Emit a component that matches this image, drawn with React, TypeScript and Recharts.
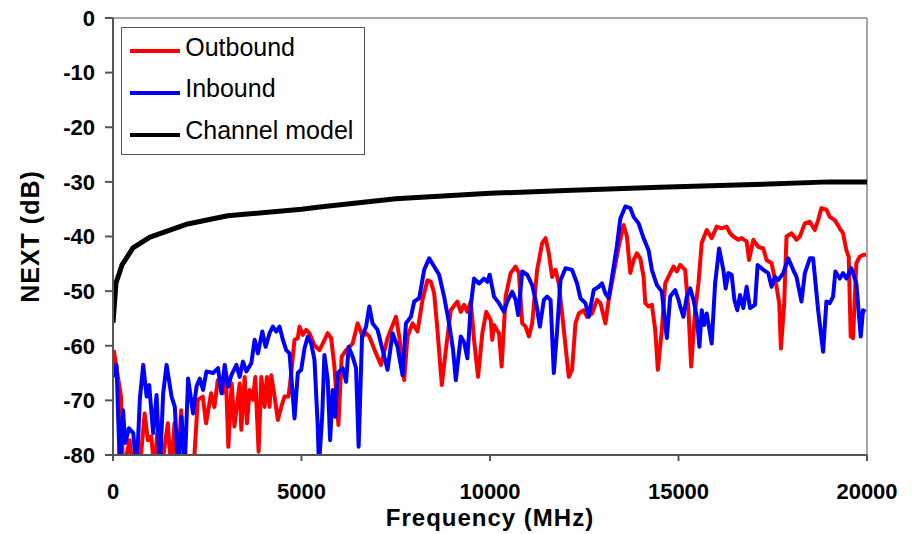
import React from 'react';
import { LineChart, Line, XAxis, YAxis, ReferenceLine, Legend } from 'recharts';

// Frequency (MHz) / NEXT (dB)
const outbound: [number, number][] = [
  [20,-60.8],[212,-69.3],[265,-83],[442,-77.3],[529,-83],[706,-83],[839,-72.4],[926,-77.3],[1014,-76.6],[1102,-83],[1172,-76.0],[1278,-83],[1455,-74.2],[1543,-83],[1631,-74.2],[1720,-83],[1807,-71.8],[1896,-83],[2028,-83],[2143,-82],[2249,-69.9],[2381,-69.3],[2469,-74.2],[2601,-68.7],[2690,-71.2],[2778,-66.3],[2910,-68.7],[2998,-66.3],[3060,-78.5],[3148,-66.9],[3220,-74.8],[3360,-66.9],[3404,-75.4],[3492,-65.7],[3554,-74.2],[3624,-68.1],[3712,-69.9],[3775,-65.7],[3862,-79.4],[3934,-65.7],[4021,-71.2],[4082,-65.7],[4153,-71.2],[4198,-65.4],[4286,-69.3],[4373,-73.6],[4463,-71.2],[4550,-69.3],[4656,-69.3],[4728,-65.0],[4815,-58.9],[4902,-58.6],[4947,-56.5],[5034,-58.0],[5124,-57.1],[5212,-57.7],[5344,-59.9],[5476,-60.8],[5563,-59.6],[5696,-57.7],[5786,-58.6],[5873,-63.8],[5979,-74.5],[6066,-62.0],[6183,-60.8],[6270,-60.2],[6357,-59.6],[6489,-55.9],[6622,-58.3],[6712,-57.7],[6799,-58.3],[6976,-61.4],[7108,-63.5],[7283,-58.6],[7505,-54.7],[7593,-58.3],[7725,-66.3],[7812,-58.3],[7945,-55.9],[8077,-57.4],[8209,-51.6],[8341,-48.0],[8431,-48.3],[8519,-50.4],[8606,-57.1],[8722,-67.2],[8828,-60.8],[8960,-53.5],[9135,-51.9],[9225,-53.8],[9312,-52.5],[9400,-53.8],[9489,-51.9],[9577,-58.9],[9683,-65.7],[9797,-57.7],[9902,-53.8],[10019,-55.3],[10061,-58.9],[10106,-56.2],[10238,-57.7],[10309,-63.8],[10415,-51.0],[10547,-46.7],[10680,-45.5],[10767,-46.7],[10854,-55.9],[10944,-56.5],[11032,-58.3],[11119,-55.9],[11251,-46.1],[11384,-41.2],[11474,-40.3],[11561,-43.1],[11648,-47.4],[11738,-46.1],[11825,-48.6],[11958,-57.1],[12090,-65.7],[12177,-64.4],[12267,-55.9],[12354,-54.1],[12487,-53.5],[12574,-54.7],[12707,-54.1],[12839,-51.6],[12929,-52.2],[13061,-55.9],[13148,-51.6],[13281,-46.7],[13413,-41.9],[13545,-37.9],[13632,-40.0],[13722,-46.7],[13810,-44.3],[13897,-43.1],[13987,-44.0],[14074,-47.4],[14119,-52.2],[14206,-52.8],[14294,-52.5],[14383,-57.1],[14452,-64.4],[14558,-57.1],[14648,-48.6],[14780,-46.7],[14868,-45.5],[14955,-46.4],[15045,-45.2],[15177,-46.1],[15264,-53.5],[15336,-63.8],[15442,-53.5],[15529,-48.6],[15616,-41.2],[15749,-38.8],[15881,-40.3],[16013,-38.2],[16146,-38.5],[16278,-38.2],[16368,-39.4],[16455,-40.0],[16587,-40.6],[16675,-40.3],[16807,-40.9],[16871,-44.3],[16984,-40.6],[17116,-41.9],[17249,-42.2],[17336,-44.3],[17468,-44.9],[17601,-49.2],[17672,-52.2],[17717,-60.5],[17804,-52.2],[17865,-40.0],[17997,-39.4],[18130,-40.6],[18219,-40.0],[18352,-37.6],[18484,-37.3],[18616,-38.8],[18704,-37.0],[18791,-34.8],[18923,-35.1],[19013,-36.4],[19146,-37.0],[19278,-38.5],[19365,-39.4],[19452,-42.5],[19515,-43.7],[19568,-58.3],[19630,-58.6],[19717,-44.9],[19807,-43.7],[19894,-43.4],[19980,-43.3],
];

const inbound: [number, number][] = [
  [0,-65.7],[93,-63.5],[185,-83],[265,-71.8],[325,-77.8],[423,-75.1],[537,-76.0],[627,-83],[714,-69.6],[802,-63.5],[892,-69.3],[960,-67.2],[1066,-76.0],[1156,-69.0],[1243,-83],[1331,-68.7],[1421,-63.5],[1553,-69.3],[1640,-71.2],[1728,-83],[1817,-73.0],[1905,-82],[1992,-66.0],[2124,-72.4],[2214,-67.5],[2302,-66.0],[2389,-68.1],[2479,-64.7],[2653,-65.0],[2786,-64.1],[2876,-68.7],[2963,-63.5],[3050,-67.5],[3140,-65.4],[3273,-63.5],[3360,-65.7],[3447,-62.9],[3537,-64.7],[3669,-63.2],[3757,-58.9],[3844,-61.4],[3960,-57.4],[4048,-60.2],[4153,-57.7],[4241,-56.5],[4331,-57.4],[4418,-56.5],[4505,-58.9],[4595,-60.8],[4683,-61.4],[4815,-73.3],[4902,-65.0],[4992,-64.4],[5079,-60.5],[5167,-58.3],[5257,-59.6],[5344,-62.6],[5431,-74.8],[5463,-82],[5548,-73.0],[5608,-61.7],[5696,-66.3],[5759,-77.3],[5828,-68.1],[5892,-73.0],[5960,-65.0],[6093,-64.1],[6183,-66.6],[6251,-60.2],[6357,-62.0],[6447,-64.1],[6516,-78.5],[6606,-58.3],[6712,-56.5],[6799,-52.8],[6886,-55.9],[7019,-57.1],[7151,-60.8],[7283,-64.4],[7415,-57.7],[7548,-60.2],[7680,-65.4],[7770,-55.9],[7902,-54.7],[7989,-51.9],[8122,-51.3],[8254,-46.1],[8386,-44.0],[8519,-45.5],[8651,-47.0],[8783,-51.0],[8915,-55.9],[9021,-60.8],[9093,-66.3],[9225,-58.3],[9312,-59.3],[9400,-62.3],[9489,-52.8],[9577,-47.7],[9709,-48.6],[9841,-47.7],[9929,-48.3],[9992,-47.0],[10106,-51.0],[10238,-52.2],[10370,-53.8],[10458,-51.9],[10590,-50.1],[10680,-51.6],[10748,-54.4],[10854,-46.4],[10987,-47.0],[11119,-48.9],[11225,-52.2],[11323,-56.5],[11429,-51.6],[11516,-51.0],[11606,-51.6],[11693,-65.0],[11781,-57.1],[11870,-48.0],[12003,-45.8],[12177,-46.1],[12310,-48.6],[12399,-51.3],[12532,-52.2],[12619,-54.7],[12751,-49.8],[12884,-49.2],[12971,-48.6],[13061,-50.4],[13148,-51.3],[13281,-45.5],[13368,-41.6],[13458,-36.7],[13590,-34.5],[13722,-34.8],[13810,-36.4],[13942,-37.6],[14074,-40.3],[14206,-42.5],[14294,-46.1],[14427,-48.9],[14558,-50.1],[14691,-58.6],[14780,-51.0],[14913,-49.8],[15000,-51.6],[15045,-52.8],[15132,-54.7],[15220,-51.0],[15310,-49.5],[15397,-51.6],[15484,-54.7],[15556,-60.2],[15616,-53.5],[15680,-56.2],[15749,-54.1],[15881,-59.6],[15971,-48.6],[16077,-42.2],[16190,-46.1],[16251,-49.5],[16323,-46.7],[16410,-47.0],[16482,-51.6],[16561,-53.5],[16632,-50.7],[16719,-53.1],[16807,-49.2],[16897,-53.1],[17029,-52.5],[17098,-45.2],[17249,-46.1],[17381,-46.7],[17468,-49.2],[17558,-47.4],[17645,-48.0],[17778,-46.7],[17910,-44.0],[18042,-46.1],[18130,-47.4],[18262,-51.9],[18352,-46.7],[18484,-44.0],[18571,-44.0],[18704,-53.5],[18836,-61.1],[18923,-51.9],[19013,-52.2],[19100,-51.0],[19161,-46.4],[19278,-47.7],[19365,-46.7],[19452,-47.7],[19585,-45.8],[19717,-48.6],[19834,-58.3],[19894,-53.5],[19960,-53.8],
];

const channelModel: [number, number][] = [
  [0,-55.8],[80,-48.5],[240,-45.2],[530,-42.1],[980,-40.1],[1980,-37.7],[3040,-36.2],[5000,-35.0],[5480,-34.6],[7500,-33.1],[10000,-32.1],[12000,-31.6],[14500,-31.0],[17000,-30.5],[19000,-30.0],[20000,-30.0],
];

const freqTicks = [0, 5000, 10000, 15000, 20000];
const dbTicks = [-80, -70, -60, -50, -40, -30, -20, -10, 0];

const seriesNames = ['Outbound', 'Inbound', 'Channel model'];
const seriesColors = ['#ff0000', '#0000ff', '#000000'];

const toRows = (pts: [number, number][]) => pts.map(([f, db]) => ({ f, db }));

const FONT = '"Liberation Sans", Arial, sans-serif';

const LegendBox = () => (
  <div
    style={{
      position: 'relative',
      width: 244,
      height: 128,
      boxSizing: 'border-box',
      border: '1px solid #555',
      background: '#fff',
      fontFamily: FONT,
    }}
  >
    {seriesNames.map((name, i) => (
      <React.Fragment key={name}>
        <div
          style={{
            position: 'absolute',
            left: 8.5,
            top: 21.5 + 42.1 * i,
            width: 50,
            height: 3.5,
            background: seriesColors[i],
          }}
        />
        <div
          style={{
            position: 'absolute',
            left: 63.5,
            top: 7.1 + 41.65 * i,
            fontSize: 25,
            lineHeight: '25px',
            whiteSpace: 'nowrap',
            color: '#000',
          }}
        >
          {name}
        </div>
      </React.Fragment>
    ))}
  </div>
);

export default function App() {
  const tickStyle = { fill: '#000', fontSize: 22, fontWeight: 'bold', fontFamily: FONT };
  return (
    <div>
      <style>{'.recharts-surface{overflow:visible}'}</style>
      <LineChart width={905} height={526} margin={{ top: 10, right: 46, bottom: 8, left: 0 }}>
        <XAxis
          type="number"
          dataKey="f"
          domain={[0, 20000]}
          ticks={freqTicks}
          interval={0}
          allowDataOverflow
          height={71}
          tickSize={6}
          tickMargin={22}
          axisLine={{ stroke: '#555', strokeWidth: 2 }}
          tickLine={{ stroke: '#555', strokeWidth: 2 }}
          tick={tickStyle}
          label={{
            value: 'Frequency (MHz)',
            position: 'insideBottom',
            offset: 0,
            fill: '#000',
            fontSize: 24,
            fontWeight: 'bold',
            fontFamily: FONT,
            letterSpacing: 1,
          }}
        />
        <YAxis
          type="number"
          domain={[-80, 0]}
          ticks={dbTicks}
          interval={0}
          allowDataOverflow
          width={105}
          tickSize={8}
          tickMargin={10}
          axisLine={{ stroke: '#555', strokeWidth: 2 }}
          tickLine={{ stroke: '#555', strokeWidth: 2 }}
          tick={tickStyle}
          label={{
            value: 'NEXT (dB)',
            angle: -90,
            position: 'insideLeft',
            offset: 22,
            style: { textAnchor: 'middle' },
            fill: '#000',
            fontSize: 25,
            fontWeight: 'bold',
            fontFamily: FONT,
            letterSpacing: 1,
          }}
        />
        <ReferenceLine y={0} stroke="#888" strokeWidth={1.5} />
        <ReferenceLine x={20000} stroke="#888" strokeWidth={1.5} />
        <Line
          data={toRows(outbound)}
          dataKey="db"
          name={seriesNames[0]}
          stroke={seriesColors[0]}
          strokeWidth={4}
          strokeLinejoin="round"
          dot={false}
          type="linear"
          isAnimationActive={false}
        />
        <Line
          data={toRows(inbound)}
          dataKey="db"
          name={seriesNames[1]}
          stroke={seriesColors[1]}
          strokeWidth={4}
          strokeLinejoin="round"
          dot={false}
          type="linear"
          isAnimationActive={false}
        />
        <Line
          data={toRows(channelModel)}
          dataKey="db"
          name={seriesNames[2]}
          stroke={seriesColors[2]}
          strokeWidth={5}
          strokeLinejoin="round"
          dot={false}
          type="linear"
          isAnimationActive={false}
        />
        <Legend
          layout="vertical"
          align="center"
          verticalAlign="middle"
          wrapperStyle={{ top: 18.7, left: 112.7, width: 244, height: 128 }}
          content={() => <LegendBox />}
        />
      </LineChart>
    </div>
  );
}
